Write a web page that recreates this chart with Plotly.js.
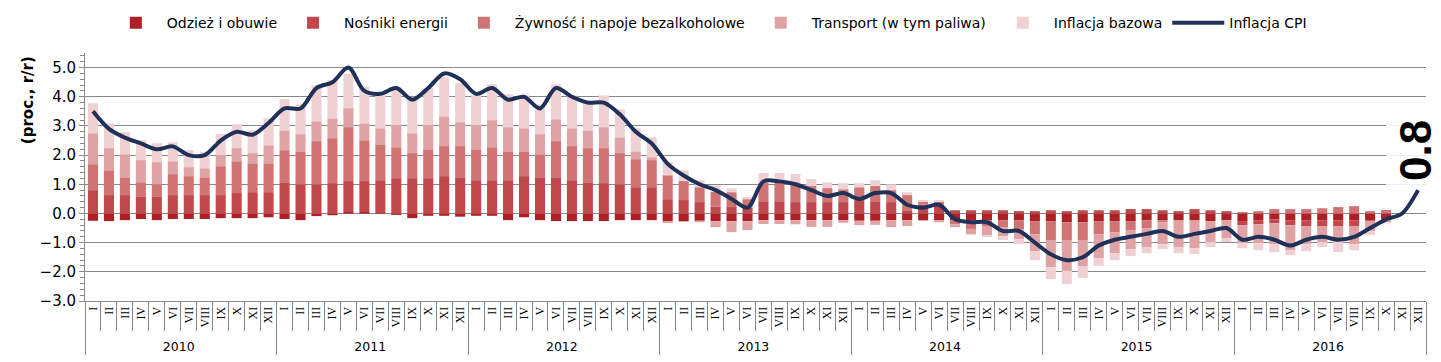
<!DOCTYPE html>
<html><head><meta charset="utf-8">
<script src="https://cdn.plot.ly/plotly-3.0.1.min.js"></script>
<style>body{margin:0;background:#fff}#chart{width:1441px;height:362px}</style>
</head><body><div id="chart"></div>
<script>
const years = ['2010','2011','2012','2013','2014','2015','2016'];
const months = ['I','II','III','IV','V','VI','VII','VIII','IX','X','XI','XII'];

const odziez = [
 -0.25,-0.26,-0.23,-0.19,-0.23,-0.19,-0.19,-0.19,-0.16,-0.16,-0.16,-0.13,
 -0.19,-0.23,-0.09,-0.06,0.05,0.05,-0.02,-0.05,-0.16,-0.08,-0.08,-0.11,
 -0.08,-0.08,-0.23,-0.13,-0.23,-0.26,-0.26,-0.26,-0.26,-0.23,-0.23,-0.23,
 -0.26,-0.26,-0.25,-0.26,-0.26,-0.26,-0.23,-0.23,-0.23,-0.23,-0.23,-0.23,
 -0.25,-0.25,-0.23,-0.23,-0.23,-0.23,-0.23,-0.23,-0.23,-0.23,-0.23,-0.26,
 -0.26,-0.30,-0.30,-0.26,-0.26,-0.26,-0.23,-0.23,-0.23,-0.23,-0.26,-0.23,
 -0.26,-0.23,-0.20,-0.23,-0.23,-0.23,-0.23,-0.23,-0.23,-0.20,null,null];
const nosniki = [
 0.80,0.63,0.63,0.59,0.59,0.63,0.63,0.63,0.63,0.70,0.73,0.73,
 1.07,1.00,1.00,1.04,1.06,1.06,1.14,1.21,1.21,1.21,1.28,1.24,
 1.14,1.14,1.14,1.28,1.24,1.24,1.14,1.07,1.04,1.00,0.90,0.90,
 0.49,0.46,0.39,0.23,0.22,0.20,0.42,0.42,0.39,0.39,0.39,0.39,
 0.46,0.42,0.39,0.11,0.30,0.30,0.11,0.11,0.11,0.11,0.08,0.08,
 0.11,0.08,0.11,0.11,0.11,0.15,0.15,0.11,0.08,0.15,0.11,0.08,
 -0.14,-0.14,-0.14,-0.17,-0.20,-0.20,-0.20,-0.20,-0.03,0.00,null,null];
const zywnosc = [
 0.89,0.85,0.61,0.48,0.41,0.72,0.65,0.61,0.99,1.09,0.99,0.99,
 1.10,1.13,1.48,1.54,1.85,1.40,1.23,1.06,0.86,0.99,1.03,1.07,
 1.06,1.13,0.99,0.85,0.79,1.24,1.17,1.17,1.20,1.07,0.96,0.93,
 0.82,0.65,0.51,0.51,0.51,0.29,0.63,0.63,0.65,0.55,0.48,0.44,
 0.44,0.52,0.41,0.52,0.10,0.10,-0.14,-0.30,-0.20,-0.24,-0.31,-0.45,
 -0.65,-0.61,-0.61,-0.45,-0.38,-0.31,-0.27,-0.07,-0.02,-0.02,0.00,0.00,
 0.05,0.08,0.15,0.15,0.15,0.18,0.22,0.25,0.08,0.12,null,null];
const transport = [
 1.06,0.76,0.79,0.76,0.76,0.44,0.31,0.31,0.38,0.45,0.35,0.62,
 0.68,0.59,0.68,0.68,0.65,0.58,0.55,0.76,0.68,0.83,1.02,0.82,
 0.83,0.93,0.83,0.79,0.69,0.75,0.61,0.61,0.72,0.54,0.27,0.10,
 -0.07,-0.03,-0.05,-0.21,-0.38,-0.31,-0.13,-0.13,-0.14,-0.23,-0.23,-0.09,
 -0.15,-0.14,-0.24,-0.20,-0.03,-0.07,-0.10,-0.18,-0.31,-0.31,-0.34,-0.58,
 -0.93,-1.06,-0.89,-0.82,-0.72,-0.65,-0.65,-0.75,-0.90,-0.94,-0.72,-0.61,
 -0.62,-0.65,-0.72,-0.86,-0.62,-0.55,-0.48,-0.63,-0.35,-0.10,null,null];
const bazowa = [
 1.03,0.85,0.76,0.68,0.65,0.65,0.58,0.57,0.72,0.82,0.78,0.92,
 1.07,1.02,1.23,1.31,1.18,1.24,1.13,1.30,1.23,1.26,1.34,1.33,
 1.02,1.23,1.13,1.13,1.02,1.20,1.13,0.93,1.09,0.96,0.79,0.68,
 0.46,0.37,0.24,0.23,0.13,0.08,0.34,0.34,0.31,0.24,0.20,0.21,
 0.14,0.20,0.20,0.10,0.06,0.06,0.00,-0.03,-0.07,-0.13,-0.17,-0.31,
 -0.41,-0.45,-0.41,-0.27,-0.24,-0.24,-0.21,-0.17,-0.21,-0.20,-0.17,-0.14,
 -0.17,-0.24,-0.27,-0.17,-0.24,-0.17,-0.41,-0.20,-0.13,-0.04,null,null];
const cpi = [
 3.5,2.9,2.6,2.4,2.2,2.3,2.0,2.0,2.5,2.8,2.7,3.1,
 3.6,3.6,4.3,4.5,5.0,4.2,4.1,4.3,3.9,4.3,4.8,4.6,
 4.1,4.3,3.9,4.0,3.6,4.3,4.0,3.8,3.8,3.4,2.8,2.4,
 1.7,1.3,1.0,0.8,0.5,0.2,1.1,1.1,1.0,0.8,0.6,0.7,
 0.5,0.7,0.7,0.3,0.2,0.3,-0.2,-0.3,-0.3,-0.6,-0.6,-1.0,
 -1.4,-1.6,-1.5,-1.1,-0.9,-0.8,-0.7,-0.6,-0.8,-0.7,-0.6,-0.5,
 -0.9,-0.8,-0.9,-1.1,-0.9,-0.8,-0.9,-0.8,-0.5,-0.2,0.0,0.8];
const lastLabel = '0.8';

const yearLabel = y => '<span style="font-family:DejaVu Sans;font-size:12.5px">' + y + '</span>';
const xYear = [], xMonth = [];
years.forEach(y => months.forEach(m => { xYear.push(yearLabel(y)); xMonth.push(m); }));
const X = [xYear, xMonth];

function bar(name, vals, color) {
  return {type:'bar', name:name, x:X, y:vals, marker:{color:color, line:{width:0}}, hoverinfo:'skip'};
}
const traces = [
  bar('Odzież i obuwie', odziez, '#b01f24'),
  bar('Nośniki energii', nosniki, '#c0484d'),
  bar('Żywność i napoje bezalkoholowe', zywnosc, '#d07375'),
  bar('Transport (w tym paliwa)', transport, '#e0a3a5'),
  bar('Inflacja bazowa', bazowa, '#f0d1d3'),
  {type:'scatter', mode:'lines', name:'Inflacja CPI', x:X, y:cpi,
   line:{color:'#1f3159', width:4, shape:'spline', smoothing:0.9}}
];

const gray = '#888888';
const yRange = [-3, 5.5];
const layout = {
  width:1441, height:362,
  margin:{l:85, r:15, t:53, b:61, autoexpand:false},
  barmode:'relative', bargap:0.37,
  paper_bgcolor:'#fff', plot_bgcolor:'#fff',
  font:{family:'DejaVu Sans', size:14, color:'#000'},
  showlegend:true,
  legend:{orientation:'h', x:0.0148, xanchor:'left', y:1.185, yanchor:'top',
          itemwidth:52, font:{family:'DejaVu Sans', size:14}, traceorder:'normal'},
  xaxis:{type:'multicategory', tickangle:-90, automargin:false,
         tickfont:{family:'Liberation Serif', size:12, color:'#000'},
         tickson:'boundaries', ticks:'outside', ticklen:29, tickcolor:gray,
         showline:true, linecolor:gray, linewidth:1,
         showdividers:true, dividercolor:gray, dividerwidth:1,
         showgrid:false, zeroline:false},
  xaxis2:{overlaying:'x', anchor:'free', position:(0 - yRange[0]) / (yRange[1] - yRange[0]),
          range:[-0.5, years.length * months.length - 0.5], tick0:-0.5, dtick:1,
          ticks:'outside', ticklen:4, tickcolor:gray, showticklabels:false,
          showline:false, showgrid:false, zeroline:false},
  yaxis:{range:yRange, tick0:0, dtick:1, tickformat:'.1f', automargin:false,
         showgrid:true, gridcolor:gray, gridwidth:1,
         zeroline:true, zerolinecolor:gray, zerolinewidth:1,
         showline:true, linecolor:gray, linewidth:1,
         ticks:'outside', ticklen:5, tickcolor:gray,
         minor:{dtick:0.2, ticks:'outside', ticklen:4, tickcolor:gray, showgrid:false},
         tickfont:{family:'DejaVu Sans', size:15, color:'#000'}},
  yaxis2:{overlaying:'y', anchor:'x', side:'left', range:yRange, tick0:0, dtick:1,
          ticks:'inside', ticklen:5, tickcolor:gray, showticklabels:false,
          showline:false, showgrid:false, zeroline:false,
          minor:{dtick:0.2, ticks:'inside', ticklen:4, tickcolor:gray, showgrid:false}},
  annotations:[
    {text:'<b>(proc., r/r)</b>', xref:'paper', yref:'paper', x:-0.0425, y:0.81,
     xanchor:'center', yanchor:'middle', textangle:-90, showarrow:false,
     font:{family:'DejaVu Sans', size:15, color:'#000'}},
    {text:'<b>'+lastLabel+'</b>', xref:'paper', yref:'y', x:0.992, y:cpi[cpi.length-1],
     xanchor:'center', yanchor:'bottom', yshift:4, textangle:-90, showarrow:false,
     bgcolor:'rgba(255,255,255,0.85)', borderpad:4,
     font:{family:'Liberation Sans', size:44, color:'#000'}}
  ]
};
Plotly.newPlot('chart', traces, layout, {displayModeBar:false, staticPlot:true});
</script>
</body></html>
